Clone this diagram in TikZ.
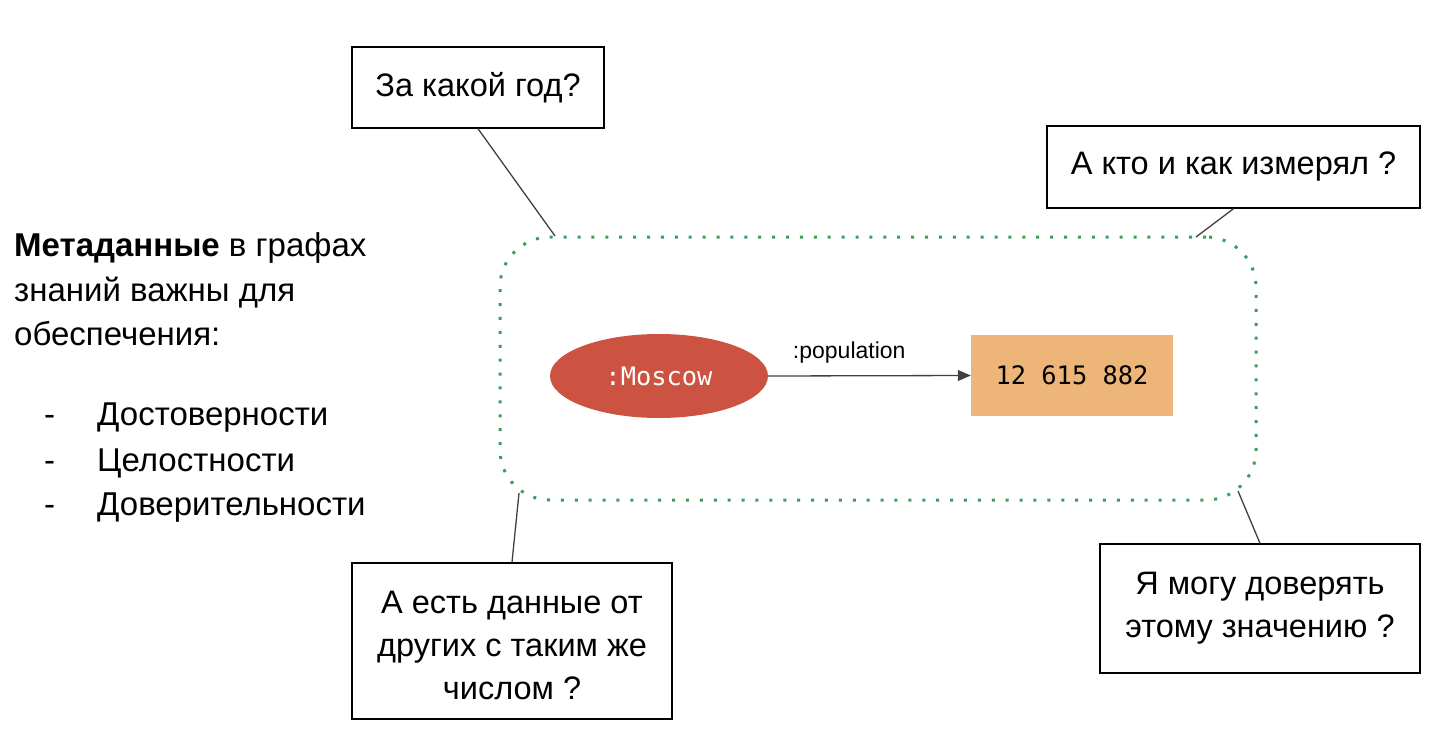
\documentclass[tikz,border=0pt]{standalone}
\usepackage{fontspec}
\setmainfont{Liberation Sans}
\newfontfamily\monofont{DejaVu Sans Mono}
\usetikzlibrary{arrows.meta,shapes.geometric}
\definecolor{frameg}{HTML}{3D9E5A}
\definecolor{moscowred}{HTML}{CC5242}
\definecolor{valorange}{HTML}{EDB577}
\definecolor{linkgray}{HTML}{404040}
\tikzset{
  qbox/.style={draw=black, line width=1.4pt, align=center, inner sep=0pt,
    font=\fontsize{32.5}{43}\selectfont},
  leftline/.style={anchor=base west, inner sep=0pt, font=\fontsize{33}{40}\selectfont},
  callout/.style={draw=linkgray, line width=1.3pt},
}
\begin{document}
\begin{tikzpicture}[x=1pt,y=-1pt]
\useasboundingbox (0,0) rectangle (1448,736);
% dotted frame
\node[draw=frameg, line width=3pt, dash pattern=on 3pt off 10.9pt, rounded corners=50pt,
  minimum width=756pt, minimum height=263pt, inner sep=0pt] (frame) at (878,368.5) {};
% question boxes
\node[qbox, minimum width=252pt, minimum height=81pt] (box1) at (478,87.5) {За какой год?};
\node[qbox, minimum width=373pt, minimum height=82pt] (box2) at (1233.5,167) {А кто и как измерял ?};
\node[qbox, minimum width=320pt, minimum height=156pt] (box3) at (512,641) {\rule{0pt}{32pt}А есть данные от\\других с таким же\\числом ?};
\node[qbox, minimum width=320pt, minimum height=129pt] (box4) at (1260,608.5) {Я могу доверять\\этому значению ?};
% callout ends on frame
\coordinate (c1) at (555,236);
\coordinate (c2) at (1196,237);
\coordinate (c3) at (519,493);
\coordinate (c4) at (1238,491);
\draw[callout] (box1.south) -- (c1);
\draw[callout] (box2.south) -- (c2);
\draw[callout] (box3.north) -- (c3);
\draw[callout] (box4.north) -- (c4);
% graph
\node[ellipse, fill=moscowred, minimum width=218pt, minimum height=84pt, inner sep=0pt,
  text=white, font=\monofont\fontsize{25.4}{28}\selectfont] (moscow) at (659,376) {:Moscow};
\node[fill=valorange, minimum width=202pt, minimum height=81pt, inner sep=0pt,
  font=\monofont\fontsize{25.4}{28}\selectfont] (value) at (1072,375.5) {12 615 882};
\draw[draw=linkgray, line width=1.3pt, -{Triangle[length=13pt,width=11pt]}] (moscow.east) -- (value.west)
  node[pos=0.4, above=12pt, inner sep=0pt, text=black, font=\fontsize{23}{26}\selectfont] (lbl) {:population};
% left text
\node[leftline] (t1) at (14,256) {\textbf{Метаданные} в графах};
\node[leftline] (t2) at (14,301) {знаний важны для};
\node[leftline] (t3) at (14,345) {обеспечения:};
\node[leftline] (d1) at (44,425) {-};
\node[leftline] (b1) at (97,425) {Достоверности};
\node[leftline] (d2) at (44,471) {-};
\node[leftline] (b2) at (97,471) {Целостности};
\node[leftline] (d3) at (44,515) {-};
\node[leftline] (b3) at (97,515) {Доверительности};
\end{tikzpicture}
\end{document}
